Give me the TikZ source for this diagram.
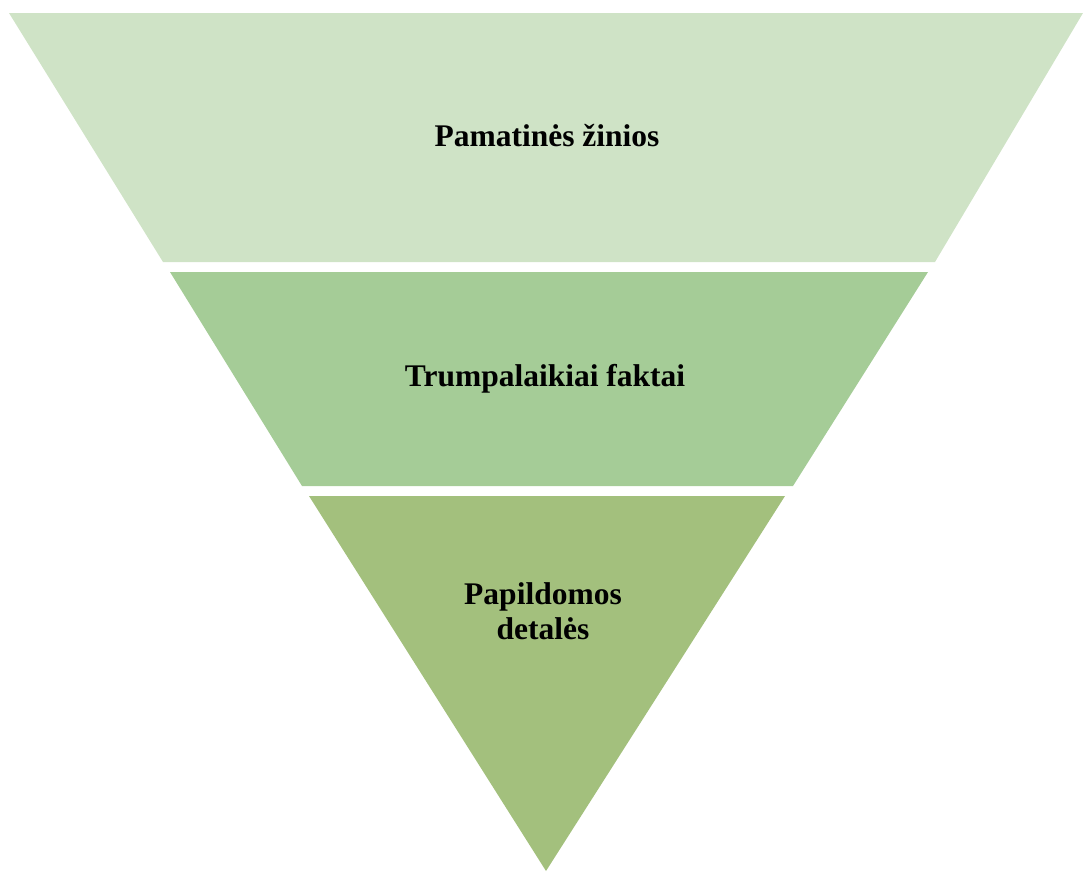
\documentclass[tikz,border=0pt]{standalone}
\usepackage{fontspec}
\setmainfont{Liberation Serif}
\definecolor{bandA}{HTML}{CFE3C6}
\definecolor{bandB}{HTML}{A5CC97}
\definecolor{bandC}{HTML}{A3C07D}
\begin{document}
\begin{tikzpicture}[x=1pt,y=-1pt,
  lbl/.style={font=\bfseries\fontsize{31.5}{35}\selectfont, align=center, text=black}]
\useasboundingbox (0,0) rectangle (1083,871);
\fill[bandA] (9,13) -- (1083,13) -- (935,262) -- (163,262) -- cycle;
\fill[bandB] (170,272) -- (928,272) -- (793,486) -- (302,486) -- cycle;
\fill[bandC] (309,496) -- (785,496) -- (546,871) -- cycle;
\node[lbl] (t1) at (547,136) {Pamatinės žinios};
\node[lbl] (t2) at (545,379) {Trumpalaikiai faktai};
\node[lbl] (t3) at (543,611) {Papildomos\\detalės};
\end{tikzpicture}
\end{document}
